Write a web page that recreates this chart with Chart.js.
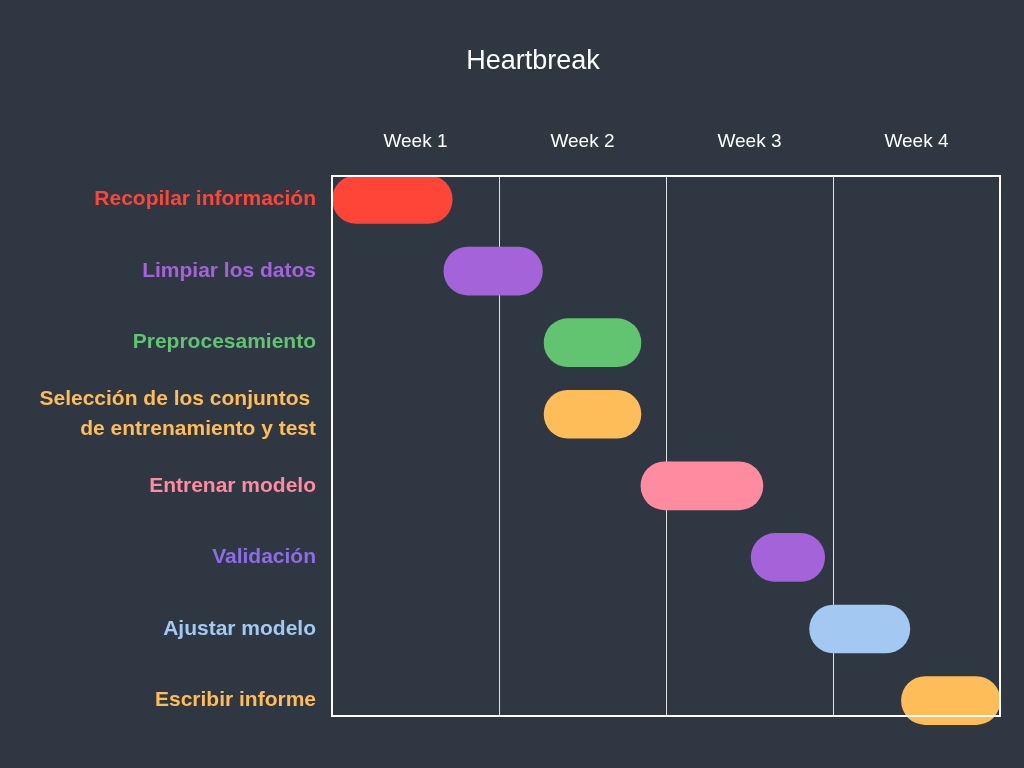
<!DOCTYPE html>
<html>
<head>
<meta charset="utf-8">
<script src="https://cdn.jsdelivr.net/npm/chart.js@4.4.1/dist/chart.umd.min.js"></script>
<style>
  html, body { margin: 0; padding: 0; background: #2F3842; }
  #wrap { width: 1024px; height: 768px; }
</style>
</head>
<body>
<div id="wrap"><canvas id="c" width="1024" height="768"></canvas></div>
<script>
const tasks = [
  'Recopilar información',
  'Limpiar los datos',
  'Preprocesamiento',
  ['Selección de los conjuntos ', 'de entrenamiento y test'],
  'Entrenar modelo',
  'Validación',
  'Ajustar modelo',
  'Escribir informe'
];
const rowIndex   = [0, 1, 2, 3, 4, 5, 6, 7];
const startWeeks = [0.00, 0.67, 1.27, 1.27, 1.85, 2.51, 2.86, 3.41];
const endWeeks   = [0.72, 1.26, 1.85, 1.85, 2.58, 2.95, 3.46, 4.00];
const weekLabels = ['Week 1', 'Week 2', 'Week 3', 'Week 4'];
const barColors   = ['#FF4538', '#A463D8', '#62C370', '#FFBD59', '#FF8BA0', '#A463D8', '#A3C9F3', '#FFBD59'];
const labelColors = ['#FF4538', '#A463D8', '#62C370', '#FFBD59', '#FF8BA0', '#8E6CE6', '#A3C9F3', '#FFBD59'];

const points = rowIndex.map((r, i) => ({ y: r, x: [startWeeks[i], endWeeks[i]] }));

const framePlugin = {
  id: 'frame',
  afterLayout(chart) {
    // centre the title the way the reference does (offset to the right of the canvas centre)
    if (chart.titleBlock) chart.titleBlock.left = 66;
  },
  afterDatasetsDraw(chart) {
    const a = chart.chartArea, ctx = chart.ctx;
    ctx.save();
    ctx.strokeStyle = '#FFFFFF';
    ctx.lineWidth = 2;
    ctx.strokeRect(a.left, a.top, a.right - a.left, a.bottom - a.top);
    ctx.restore();
  }
};

const bgPlugin = {
  id: 'bg',
  beforeDraw(chart) {
    const ctx = chart.ctx;
    ctx.save();
    ctx.fillStyle = '#2F3842';
    ctx.fillRect(0, 0, chart.width, chart.height);
    ctx.restore();
  }
};

const FONT = '"Liberation Sans", Arial, sans-serif';

new Chart(document.getElementById('c'), {
  type: 'bar',
  data: {
    datasets: [{
      data: points,
      backgroundColor: barColors,
      borderRadius: 24,
      borderSkipped: false,
      barThickness: 48,
      clip: false
    }]
  },
  options: {
    indexAxis: 'y',
    responsive: false,
    animation: false,
    layout: { padding: { left: 0, right: 24, top: 0, bottom: 52 } },
    plugins: {
      legend: { display: false },
      tooltip: { enabled: false },
      title: {
        display: true,
        text: 'Heartbreak',
        color: '#FFFFFF',
        font: { family: FONT, size: 27, weight: 'normal', lineHeight: 1.2 },
        padding: { top: 45, bottom: 0 }
      }
    },
    scales: {
      x: {
        type: 'linear',
        position: 'top',
        min: 0,
        max: 4,
        border: { display: false },
        afterBuildTicks(scale) {
          const t = [];
          for (let v = 0; v <= 4; v += 0.5) t.push({ value: v });
          scale.ticks = t;
        },
        afterFit(scale) { scale.height = 176 - 77.4; },
        grid: {
          drawTicks: false,
          lineWidth: 1,
          color(ctx) {
            const v = ctx.tick ? ctx.tick.value : null;
            return (v === 1 || v === 2 || v === 3) ? 'rgba(255,255,255,0.85)' : 'rgba(0,0,0,0)';
          }
        },
        ticks: {
          color: '#FFFFFF',
          padding: 23,
          maxRotation: 0,
          autoSkip: false,
          font: { family: FONT, size: 19, lineHeight: 1.2 },
          callback(value) {
            const k = value - 0.5;
            if (Number.isInteger(k) && k >= 0 && k < weekLabels.length) return weekLabels[k];
            return '';
          }
        }
      },
      y: {
        type: 'linear',
        reverse: true,
        offset: false,
        min: -0.328,
        max: 7.215,
        border: { display: false },
        grid: { display: false, drawTicks: false, offset: false },
        afterBuildTicks(scale) {
          scale.ticks = rowIndex.map(v => ({ value: v }));
        },
        afterFit(scale) { scale.width = 332; },
        ticks: {
          padding: 16,
          autoSkip: false,
          color(ctx) { return labelColors[ctx.index]; },
          font: { family: FONT, size: 21, weight: 'bold', lineHeight: 1.4 },
          callback(value) { return tasks[value]; }
        }
      }
    }
  },
  plugins: [bgPlugin, framePlugin]
});
</script>
</body>
</html>
